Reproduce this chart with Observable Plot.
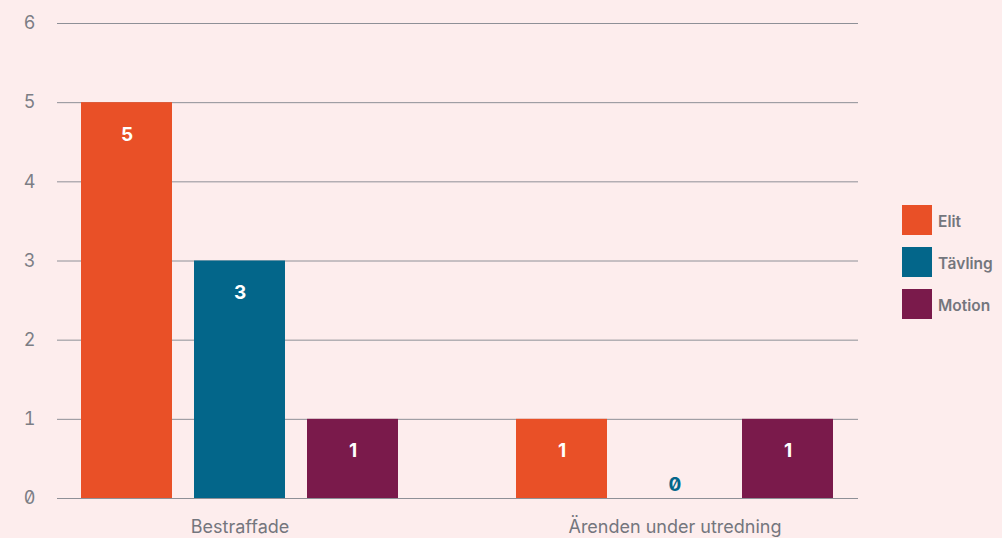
<!DOCTYPE html>
<html><head><meta charset="utf-8">
<script src="https://cdn.jsdelivr.net/npm/d3@7"></script>
<script src="https://cdn.jsdelivr.net/npm/@observablehq/plot@0.6"></script>
<style>
html,body{margin:0;padding:0;background:#fdeded;}
body{width:1002px;height:538px;position:relative;overflow:hidden;font-family:Inter,"Noto Sans",sans-serif;font-feature-settings:"zero" 1;}
#chart svg{display:block;}
#legend{position:absolute;left:902px;top:205px;}
.item{display:flex;align-items:center;height:30px;margin-bottom:12px;}
.sw{width:30px;height:30px;margin-right:6px;}
.lab{font-size:15.5px;font-weight:600;color:#74767d;position:relative;top:1px;}
</style></head><body><div id="chart"></div><div id="legend"></div>
<script>
const groups = ["Bestraffade", "Ärenden under utredning"];
const series = ["Elit", "Tävling", "Motion"];
const bestraffade = [5, 3, 1];
const arenden = [1, 0, 1];
const colors = ["#e95027", "#03668a", "#7a1a4b"];
const yTicks = [0, 1, 2, 3, 4, 5, 6];

const data = [];
series.forEach((s, i) => data.push({group: groups[0], series: s, value: bestraffade[i]}));
series.forEach((s, i) => data.push({group: groups[1], series: s, value: arenden[i]}));

const grid = (g) => yTicks.map(t => ({group: g, y: t}));

const gray = "#74767d";
const gridColor = "#8e9097";
const chart = Plot.plot({
  width: 1002,
  height: 538,
  marginLeft: 80,
  marginRight: 168,
  marginTop: 23,
  marginBottom: 40,
  style: {background: "transparent", fontFamily: "Inter, 'Noto Sans', sans-serif", fontFeatureSettings: "'zero' 1"},
  fx: {domain: groups, paddingInner: 116 / 435, paddingOuter: 0, label: null},
  x: {domain: series, paddingInner: 22.5 / 113.5, paddingOuter: 0, axis: null},
  y: {domain: [0, 6], label: null},
  color: {domain: series, range: colors},
  marks: [
    Plot.ruleY(grid(groups[0]), {fx: "group", y: "y", stroke: gridColor, strokeWidth: 1, insetLeft: -23, insetRight: -58}),
    Plot.ruleY(grid(groups[1]), {fx: "group", y: "y", stroke: gridColor, strokeWidth: 1, insetLeft: -58, insetRight: -24}),
    Plot.axisY(yTicks, {tickSize: 0, tickPadding: 45, fontSize: 18, fill: "#7c7e85", label: null, tickFormat: d3.format("d")}),
    Plot.axisFx({anchor: "bottom", tickSize: 0, tickPadding: 22, fontSize: 18, fill: gray, label: null}),
    Plot.barY(data, {fx: "group", x: "series", y: "value", fill: "series"}),
    Plot.text(data.filter(d => d.value > 0), {fx: "group", x: "series", y: "value", text: d => String(d.value), fill: "white", fontWeight: 700, fontSize: 19, dy: 32}),
    Plot.text(data.filter(d => d.value === 0), {fx: "group", x: "series", y: "value", text: d => String(d.value), fill: "series", fontWeight: 700, fontSize: 19, dy: -14})
  ]
});
document.getElementById("chart").appendChild(chart);

const legend = document.getElementById("legend");
series.forEach((s, i) => {
  const item = document.createElement("div");
  item.className = "item";
  item.innerHTML = `<div class="sw" style="background:${colors[i]}"></div><span class="lab">${s}</span>`;
  legend.appendChild(item);
});
</script>
</body></html>
